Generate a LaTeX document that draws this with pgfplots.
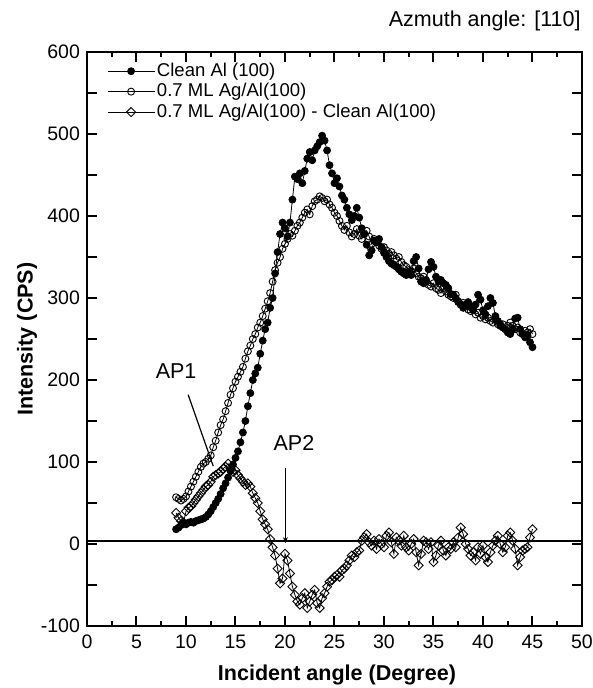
\documentclass[border=0pt]{standalone}
\usepackage{pgfplots}
\pgfplotsset{compat=1.18}
\usepackage{fontspec}
\setmainfont{Liberation Sans}
\usetikzlibrary{arrows.meta}
\begin{document}
\begin{tikzpicture}
\begin{axis}[
  at={(0,0)}, anchor=south west,
  scale only axis, width=247.5bp, height=287bp,
  xmin=0, xmax=50, ymin=-100, ymax=600,
  xtick={0,5,...,50}, minor xtick={2.5,7.5,...,47.5},
  ytick={-100,-50,...,600},
  yticklabels={-100,,0,,100,,200,,300,,400,,500,,600},
  tick align=inside, tick pos=both,
  major tick length=5bp, minor tick length=2.5bp,
  axis line style={line width=1bp},
  every tick/.style={line width=1bp, black},
  /pgf/number format/assume math mode=true,
  tick label style={font=\fontsize{9.8}{11}\selectfont},
  xticklabel style={yshift=-1bp},
  xlabel={\bfseries Incident angle (Degree)},
  ylabel={\bfseries Intensity (CPS)},
  every axis x label/.style={at={(axis description cs:0.505,-0.0958)}, anchor=base, font=\fontsize{10.8}{12}\selectfont},
  every axis y label/.style={at={(axis description cs:-0.1212,0.5)}, rotate=90, anchor=center, font=\fontsize{10.8}{12}\selectfont},
  title={Azmuth angle: [110]},
  every axis title/.style={at={(axis description cs:0.998,1.0445)}, anchor=base east, inner sep=0pt, font=\fontsize{10.8}{12}\selectfont},
  legend cell align=left,
  legend style={at={(axis description cs:0.04,0.985)}, anchor=north west, draw=none, fill=none,
    font=\fontsize{9.3}{11}\selectfont, inner sep=0pt, row sep=0bp,
    nodes={inner sep=1bp}},
  legend image code/.code={\draw[#1, mark repeat=2, mark phase=2] plot coordinates {(0bp,0bp) (11.75bp,0bp) (23.5bp,0bp)};},
]
% Clean Al(100)
\addplot[black, line width=0.4bp, mark=*, mark size=1.75bp, mark options={fill=black, line width=0.4bp}] coordinates {
(9.0,18)(9.25,20)(9.5,23)(9.75,25)(10.0,24)(10.25,26)(10.5,27)(10.75,26)(11.0,28)(11.25,29)
(11.5,30)(11.75,31)(12.0,33)(12.25,36)(12.5,40)(12.75,45)(13.0,50)(13.25,55)(13.5,61)(13.75,68)
(14.0,74)(14.25,81)(14.5,89)(14.75,97)(15.0,105)(15.25,113)(15.5,124)(15.75,136)(16.0,150)(16.25,168)
(16.5,184)(16.75,200)(17.0,208)(17.25,215)(17.5,232)(17.75,248)(18.0,262)(18.25,270)(18.5,288)(18.75,300)
(19.0,330)(19.25,356)(19.5,378)(19.75,392)(20.0,385)(20.25,375)(20.5,392)(20.75,420)(21.0,448)(21.25,445)
(21.5,452)(21.75,440)(22.0,455)(22.25,470)(22.5,478)(22.75,468)(23.0,480)(23.25,485)(23.5,490)(23.75,498)
(24.0,492)(24.25,480)(24.5,462)(24.75,452)(25.0,440)(25.25,446)(25.5,436)(25.75,425)(26.0,420)(26.25,410)
(26.5,402)(26.75,395)(27.0,400)(27.25,410)(27.5,398)(27.75,385)(28.0,378)(28.25,365)(28.5,352)(28.75,358)
(29.0,370)(29.25,368)(29.5,372)(29.75,362)(30.0,355)(30.25,350)(30.5,345)(30.75,342)(31.0,340)(31.25,338)
(31.5,335)(31.75,332)(32.0,330)(32.25,328)(32.5,332)(32.75,328)(33.0,345)(33.25,350)(33.5,336)(33.75,320)
(34.0,318)(34.25,322)(34.5,335)(34.75,344)(35.0,338)(35.25,326)(35.5,320)(35.75,322)(36.0,318)(36.25,316)
(36.5,312)(36.75,305)(37.0,304)(37.25,300)(37.5,295)(37.75,292)(38.0,288)(38.25,292)(38.5,295)(38.75,290)
(39.0,285)(39.25,292)(39.5,304)(39.75,298)(40.0,285)(40.25,280)(40.5,290)(40.75,300)(41.0,294)(41.25,278)
(41.5,272)(41.75,268)(42.0,264)(42.25,262)(42.5,258)(42.75,256)(43.0,262)(43.25,275)(43.5,276)(43.75,262)
(44.0,256)(44.25,252)(44.5,254)(44.75,246)(45.0,240)
};
\addlegendentry{Clean Al (100)}
% 0.7 ML Ag/Al(100)
\addplot[black, line width=0.4bp, mark=o, mark size=1.75bp, mark options={fill=white, line width=0.45bp}] coordinates {
(9.0,57)(9.25,55)(9.5,53)(9.75,55)(10.0,58)(10.25,64)(10.5,70)(10.75,76)(11.0,82)(11.25,88)
(11.5,94)(11.75,98)(12.0,100)(12.25,104)(12.5,108)(12.75,118)(13.0,126)(13.25,136)(13.5,145)(13.75,152)
(14.0,162)(14.25,172)(14.5,182)(14.75,190)(15.0,198)(15.25,204)(15.5,210)(15.75,216)(16.0,226)(16.25,235)
(16.5,242)(16.75,250)(17.0,256)(17.25,264)(17.5,270)(17.75,278)(18.0,287)(18.25,296)(18.5,306)(18.75,320)
(19.0,334)(19.25,343)(19.5,350)(19.75,360)(20.0,366)(20.25,372)(20.5,378)(20.75,376)(21.0,382)(21.25,388)
(21.5,392)(21.75,398)(22.0,404)(22.25,408)(22.5,402)(22.75,412)(23.0,418)(23.25,420)(23.5,424)(23.75,422)
(24.0,418)(24.25,420)(24.5,414)(24.75,410)(25.0,404)(25.25,400)(25.5,394)(25.75,388)(26.0,383)(26.25,388)
(26.5,380)(26.75,375)(27.0,378)(27.25,384)(27.5,376)(27.75,372)(28.0,378)(28.25,382)(28.5,375)(28.75,366)
(29.0,372)(29.25,368)(29.5,364)(29.75,360)(30.0,362)(30.25,358)(30.5,354)(30.75,356)(31.0,352)(31.25,348)
(31.5,350)(31.75,344)(32.0,340)(32.25,338)(32.5,334)(32.75,332)(33.0,336)(33.25,330)(33.5,326)(33.75,324)
(34.0,326)(34.25,320)(34.5,316)(34.75,314)(35.0,318)(35.25,312)(35.5,310)(35.75,306)(36.0,312)(36.25,308)
(36.5,304)(36.75,302)(37.0,300)(37.25,304)(37.5,296)(37.75,292)(38.0,294)(38.25,290)(38.5,286)(38.75,284)
(39.0,288)(39.25,280)(39.5,282)(39.75,276)(40.0,278)(40.25,274)(40.5,276)(40.75,272)(41.0,270)(41.25,274)
(41.5,268)(41.75,266)(42.0,268)(42.25,262)(42.5,266)(42.75,270)(43.0,266)(43.25,262)(43.5,264)(43.75,258)
(44.0,256)(44.25,260)(44.5,258)(44.75,262)(45.0,256)
};
\addlegendentry{0.7 ML Ag/Al(100)}
% difference
\addplot[black, line width=0.4bp, mark=square, mark size=1.6bp, mark options={fill=white, rotate=45, line width=0.45bp}] coordinates {
(9.0,38)(9.25,32)(9.5,28)(9.75,26)(10.0,40)(10.25,44)(10.5,46)(10.75,50)(11.0,54)(11.25,58)
(11.5,62)(11.75,66)(12.0,70)(12.25,72)(12.5,76)(12.75,82)(13.0,84)(13.25,86)(13.5,88)(13.75,92)
(14.0,94)(14.25,98)(14.5,92)(14.75,88)(15.0,90)(15.25,84)(15.5,80)(15.75,76)(16.0,72)(16.25,74)
(16.5,70)(16.75,62)(17.0,56)(17.25,50)(17.5,40)(17.75,30)(18.0,24)(18.25,18)(18.5,6)(18.75,-4)
(19.0,-14)(19.25,-30)(19.5,-48)(19.75,-42)(20.0,-12)(20.25,-20)(20.5,-36)(20.75,-52)(21.0,-62)(21.25,-70)
(21.5,-74)(21.75,-66)(22.0,-60)(22.25,-78)(22.5,-70)(22.75,-62)(23.0,-56)(23.25,-72)(23.5,-78)(23.75,-66)
(24.0,-60)(24.25,-52)(24.5,-46)(24.75,-44)(25.0,-40)(25.25,-38)(25.5,-40)(25.75,-32)(26.0,-30)(26.25,-26)
(26.5,-20)(26.75,-14)(27.0,-16)(27.25,-10)(27.5,-8)(27.75,4)(28.0,8)(28.25,12)(28.5,2)(28.75,-2)
(29.0,4)(29.25,-6)(29.5,6)(29.75,0)(30.0,-4)(30.25,10)(30.5,14)(30.75,2)(31.0,-12)(31.25,8)
(31.5,4)(31.75,-2)(32.0,10)(32.25,-4)(32.5,-8)(32.75,0)(33.0,6)(33.25,-10)(33.5,-26)(33.75,-12)
(34.0,4)(34.25,2)(34.5,-6)(34.75,2)(35.0,-22)(35.25,-14)(35.5,-2)(35.75,4)(36.0,-8)(36.25,-14)
(36.5,-4)(36.75,-6)(37.0,2)(37.25,-4)(37.5,8)(37.75,20)(38.0,12)(38.25,0)(38.5,-6)(38.75,-14)
(39.0,-10)(39.25,-20)(39.5,-4)(39.75,-12)(40.0,-2)(40.25,-16)(40.5,-22)(40.75,-10)(41.0,-2)(41.25,4)
(41.5,10)(41.75,0)(42.0,-10)(42.25,-4)(42.5,10)(42.75,14)(43.0,4)(43.25,-6)(43.5,-26)(43.75,-16)
(44.0,-8)(44.25,-6)(44.5,-4)(44.75,8)(45.0,18)
};
\addlegendentry{0.7 ML Ag/Al(100) - Clean Al(100)}
% zero reference line
\draw[line width=1bp] (axis cs:0,4) -- (axis cs:50,4);
% annotations
\node[font=\fontsize{10.8}{12}\selectfont] at (axis cs:9.0,211) {AP1};
\draw[line width=0.6bp] (axis cs:10.22,182) -- (axis cs:12.75,95);
\node[font=\fontsize{10.8}{12}\selectfont] at (axis cs:20.9,123) {AP2};
\draw[line width=0.6bp, -{Stealth[length=3bp,width=2.4bp]}] (axis cs:20.04,93) -- (axis cs:20.04,1);
\end{axis}
\pgfresetboundingbox
\path (-43.5bp,-31bp) rectangle (253bp,313bp);
\end{tikzpicture}
\end{document}
